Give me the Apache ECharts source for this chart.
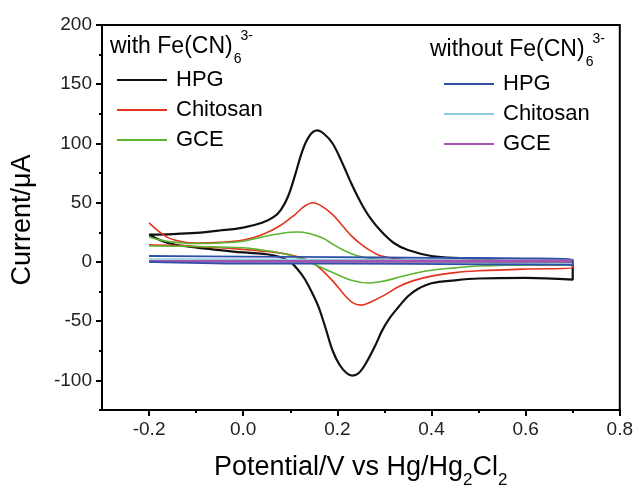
<!DOCTYPE html>
<html>
<head>
<meta charset="utf-8">
<script src="https://cdn.jsdelivr.net/npm/echarts@6/dist/echarts.min.js"></script>
<style>
  html, body { margin: 0; padding: 0; background: #fff; }
  #chart { width: 636px; height: 488px; }
</style>
</head>
<body>
<div id="chart"></div>
<script>
// potential (V) / current (uA) pairs, in scan order
var hpgWith = [
  [-0.2, 23], [-0.15, 23.5], [-0.1, 24.5], [-0.05, 26.5], [0.0, 29], [0.04, 33], [0.065, 38],
  [0.08, 44], [0.095, 55], [0.11, 73], [0.125, 93], [0.14, 106], [0.157, 111], [0.172, 108],
  [0.19, 100], [0.21, 84], [0.23, 66], [0.25, 50], [0.27, 37], [0.295, 25], [0.32, 16],
  [0.35, 10], [0.4, 5], [0.47, 3], [0.55, 1], [0.7, -1],
  [0.7, -15], [0.6, -13.5], [0.5, -14], [0.45, -15.5], [0.4, -18], [0.37, -23], [0.35, -29],
  [0.33, -38], [0.31, -48], [0.295, -58], [0.28, -71], [0.26, -86], [0.245, -94], [0.232, -96],
  [0.22, -94], [0.205, -87], [0.19, -75], [0.175, -56], [0.16, -38], [0.145, -25], [0.13, -14],
  [0.115, -6], [0.1, 0], [0.08, 4], [0.05, 6.5], [0.0, 8], [-0.05, 10], [-0.11, 12.7],
  [-0.16, 16], [-0.2, 23]
];
var chitosanWith = [
  [-0.2, 33], [-0.18, 26], [-0.16, 20.5], [-0.13, 17], [-0.1, 16], [-0.05, 16.5], [0.0, 18.5],
  [0.04, 23], [0.08, 31], [0.11, 40], [0.13, 47], [0.148, 50], [0.165, 47.5], [0.19, 40],
  [0.21, 31], [0.23, 22], [0.25, 15], [0.27, 9.5], [0.29, 5.5], [0.33, 2.5], [0.4, 0.5],
  [0.5, -1], [0.6, -1.5], [0.7, -2.5],
  [0.7, -5], [0.6, -6], [0.5, -7.5], [0.45, -9], [0.4, -12], [0.36, -16], [0.33, -21],
  [0.3, -28], [0.27, -34], [0.252, -36.5], [0.235, -35], [0.22, -30], [0.19, -16], [0.165, -6],
  [0.14, 1], [0.1, 6], [0.06, 8.5], [0.0, 10.5], [-0.05, 12], [-0.1, 13], [-0.15, 14], [-0.2, 14.5]
];
var gceWith = [
  [-0.2, 21], [-0.17, 18], [-0.13, 16], [-0.1, 15.5], [-0.05, 16], [0.0, 17.5], [0.04, 21],
  [0.08, 24], [0.115, 25.2], [0.14, 24], [0.17, 20], [0.19, 15], [0.21, 10.5], [0.24, 5.5],
  [0.28, 2.5], [0.35, 1], [0.5, 0], [0.7, -1],
  [0.7, -2.5], [0.6, -2.5], [0.5, -3.5], [0.45, -5], [0.4, -7], [0.36, -10], [0.33, -13],
  [0.3, -16], [0.265, -17.8], [0.23, -15.5], [0.19, -9], [0.15, -2], [0.12, 3], [0.08, 7.5],
  [0.04, 10], [0.0, 12], [-0.1, 13], [-0.2, 13.5]
];
var chitosanWithout = [
  [-0.2, 2.5], [0.2, 2], [0.5, 1.5], [0.7, 1], [0.7, -1.5], [0.4, -1], [0.0, -0.5], [-0.2, 0]
];
var gceWithout = [
  [-0.2, 1], [0.2, 1], [0.5, 1.2], [0.7, 1.5], [0.7, 0], [0.4, 0], [0.0, 0], [-0.2, 0]
];
var hpgWithout = [
  [-0.2, 5], [0.0, 4.5], [0.2, 4], [0.4, 3.5], [0.6, 3], [0.7, 2], [0.7, -2.5], [0.5, -2],
  [0.2, -1.5], [0.0, -1.5], [-0.2, 0]
];

var xLabels = [-0.2, 0.0, 0.2, 0.4, 0.6, 0.8];
var xMinor = [-0.1, 0.1, 0.3, 0.5, 0.7];
var yLabels = [-100, -50, 0, 50, 100, 150, 200];
var yMinor = [-125, -75, -25, 25, 75, 125, 175];

var FONT = '"Liberation Sans", Arial, Helvetica, sans-serif';

var ctx = document.createElement('canvas').getContext('2d');
function textWidth(t, size) {
  ctx.font = size + 'px ' + FONT;
  return ctx.measureText(t).width;
}
// text with sub/superscripts: parts = [text, size, centerY, extra advance]
function rowText(x, parts) {
  var out = [];
  parts.forEach(function(p) {
    out.push({
      type: 'text', x: x, y: p[2], silent: true,
      style: { text: p[0], fontSize: p[1], fontFamily: FONT, fill: '#000',
               textAlign: 'left', textVerticalAlign: 'middle' }
    });
    x += textWidth(p[0], p[1]) + (p[3] || 0);
  });
  return out;
}

var chart = echarts.init(document.getElementById('chart'));

function ser(name, data, color, width) {
  return {
    name: name, type: 'line', data: data, color: color,
    symbol: 'none', smooth: 0.35,
    lineStyle: { color: color, width: width },
    xAxisIndex: 0, yAxisIndex: 0
  };
}

var legendBase = {
  orient: 'vertical', padding: 0, icon: 'rect', itemWidth: 50, itemHeight: 2,
  itemGap: 8, selectedMode: false,
  formatter: function(n) { return n.split('|')[0]; },
  textStyle: { fontSize: 22, fontFamily: FONT, color: '#000', padding: [0, 0, 0, 4] }
};

var graphics = []
  .concat(rowText(110, [['with Fe(CN)', 23, 46.5, 1], ['6', 14, 59, -1], ['3-', 14, 36]]))
  .concat(rowText(430, [['without Fe(CN)', 23, 49.5, 1], ['6', 14, 62, -1], ['3-', 14, 39]]))
  .concat(rowText(214, [['Potential/V vs Hg/Hg', 27, 468], ['2', 17, 480], ['Cl', 27, 468], ['2', 17, 480]]));
graphics.push({
  type: 'text', x: 23, y: 220, rotation: Math.PI / 2, silent: true,
  style: { text: 'Current/\u03bcA', fontSize: 27, fontFamily: FONT, fill: '#000',
           textAlign: 'center', textVerticalAlign: 'middle' }
});

var option = {
  backgroundColor: '#fff',
  animation: false,
  grid: { left: 102, right: 15, top: 25, bottom: 78, show: true,
          borderColor: '#000', borderWidth: 2, backgroundColor: 'transparent' },
  legend: [
    Object.assign({}, legendBase, { left: 117, top: 69,
      data: ['HPG|with', 'Chitosan|with', 'GCE|with'] }),
    Object.assign({}, legendBase, { left: 444, top: 73,
      data: ['HPG|without', 'Chitosan|without', 'GCE|without'] })
  ],
  xAxis: [{
    type: 'value', min: -0.3, max: 0.8, position: 'bottom',
    axisLine: { onZero: false, lineStyle: { color: '#000', width: 2 } },
    axisTick: { customValues: xLabels, length: 6, lineStyle: { color: '#000', width: 2 } },
    axisLabel: { customValues: xLabels, margin: 10, fontSize: 19, fontFamily: FONT, color: '#222',
                 formatter: function(v) { return v.toFixed(1); } },
    splitLine: { show: false }
  }, {
    type: 'value', min: -0.3, max: 0.8, position: 'bottom', offset: 0,
    axisLine: { show: false, onZero: false },
    axisTick: { customValues: xMinor, length: 3, lineStyle: { color: '#000', width: 2 } },
    axisLabel: { show: false },
    splitLine: { show: false }
  }],
  yAxis: [{
    type: 'value', min: -125, max: 200, position: 'left',
    axisLine: { show: true, onZero: false, lineStyle: { color: '#000', width: 2 } },
    axisTick: { show: true, customValues: yLabels, length: 6, lineStyle: { color: '#000', width: 2 } },
    axisLabel: { customValues: yLabels, margin: 10, fontSize: 19, fontFamily: FONT, color: '#222' },
    splitLine: { show: false }
  }, {
    type: 'value', min: -125, max: 200, position: 'left', offset: 0,
    axisLine: { show: false, onZero: false },
    axisTick: { show: true, customValues: yMinor, length: 3, lineStyle: { color: '#000', width: 2 } },
    axisLabel: { show: false },
    splitLine: { show: false }
  }],
  series: [
    ser('HPG|with', hpgWith, '#111111', 2.2),
    ser('Chitosan|with', chitosanWith, '#e4321c', 1.6),
    ser('GCE|with', gceWith, '#5cb531', 1.6),
    ser('Chitosan|without', chitosanWithout, '#8ccbe0', 1.6),
    ser('GCE|without', gceWithout, '#a554ad', 1.6),
    ser('HPG|without', hpgWithout, '#2f4fa8', 1.8)
  ],
  graphic: graphics
};
chart.setOption(option);
</script>
</body>
</html>
